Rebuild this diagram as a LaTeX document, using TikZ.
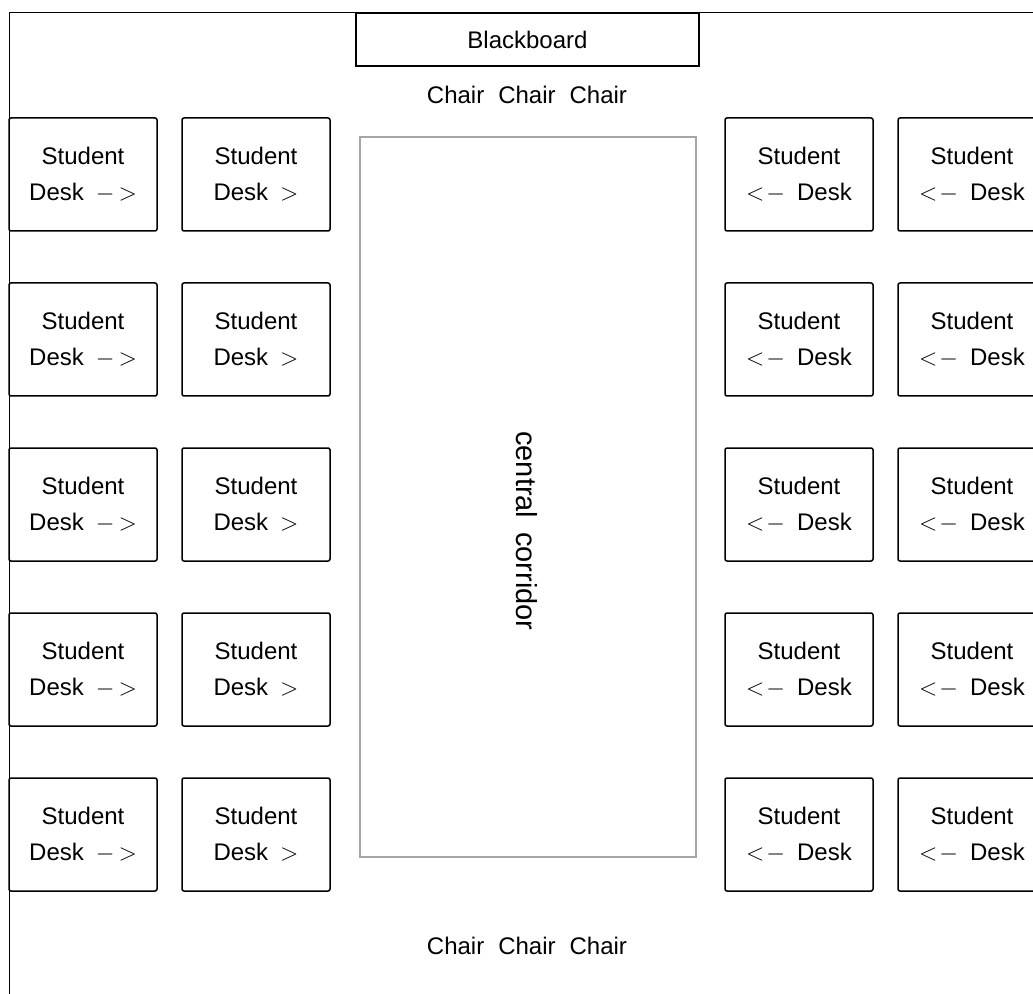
\documentclass[tikz,border=0pt]{standalone}
\usepackage{fontspec}
\setmainfont{Liberation Sans}
\tikzset{
  desk/.style={draw, line width=0.75pt, rounded corners=1pt, minimum width=74pt,
    minimum height=56.5pt, inner sep=0pt, align=center,
    font=\fontsize{12}{18}\selectfont},
  label/.style={font=\fontsize{12}{14}\selectfont}
}
\begin{document}
\begin{tikzpicture}[x=0.5pt, y=-0.5pt]
\useasboundingbox (0,0) rectangle (1033,994);
\draw[line width=0.5pt] (9,994) -- (9,13) -- (1040,13);
%
\draw(527.5,39.5) node[draw, line width=0.75pt, minimum width=171.5pt,
  minimum height=26.5pt, label](blackboard){Blackboard};
\draw(527,95) node[label](chairstop){Chair\hspace{7pt}Chair\hspace{7pt}Chair};
\draw(527,946) node[label](chairsbottom){Chair\hspace{7pt}Chair\hspace{7pt}Chair};
%
\draw(528,497) node[draw=gray!70, line width=1pt, minimum width=168pt,
  minimum height=360pt](corridor){};
\draw(527,531) node[font=\fontsize{14.5}{16}\selectfont, rotate=-90]
  (corridortext){central\hspace{7pt}corridor};
%
% left side, desks face right
\draw(83,174.5) node[desk](desk11){Student\\Desk\hspace{6pt}$-$\hspace{2pt}$>$};
\draw(256,174.5) node[desk](desk12){Student\\Desk\hspace{6pt}$>$};
\draw(83,339.5) node[desk](desk21){Student\\Desk\hspace{6pt}$-$\hspace{2pt}$>$};
\draw(256,339.5) node[desk](desk22){Student\\Desk\hspace{6pt}$>$};
\draw(83,504.5) node[desk](desk31){Student\\Desk\hspace{6pt}$-$\hspace{2pt}$>$};
\draw(256,504.5) node[desk](desk32){Student\\Desk\hspace{6pt}$>$};
\draw(83,669.5) node[desk](desk41){Student\\Desk\hspace{6pt}$-$\hspace{2pt}$>$};
\draw(256,669.5) node[desk](desk42){Student\\Desk\hspace{6pt}$>$};
\draw(83,834.5) node[desk](desk51){Student\\Desk\hspace{6pt}$-$\hspace{2pt}$>$};
\draw(256,834.5) node[desk](desk52){Student\\Desk\hspace{6pt}$>$};
%
% right side, desks face left
\draw(799,174.5) node[desk](desk13){Student\\$<$\hspace{1pt}$-$\hspace{6pt}Desk};
\draw(972,174.5) node[desk](desk14){Student\\$<$\hspace{1pt}$-$\hspace{6pt}Desk};
\draw(799,339.5) node[desk](desk23){Student\\$<$\hspace{1pt}$-$\hspace{6pt}Desk};
\draw(972,339.5) node[desk](desk24){Student\\$<$\hspace{1pt}$-$\hspace{6pt}Desk};
\draw(799,504.5) node[desk](desk33){Student\\$<$\hspace{1pt}$-$\hspace{6pt}Desk};
\draw(972,504.5) node[desk](desk34){Student\\$<$\hspace{1pt}$-$\hspace{6pt}Desk};
\draw(799,669.5) node[desk](desk43){Student\\$<$\hspace{1pt}$-$\hspace{6pt}Desk};
\draw(972,669.5) node[desk](desk44){Student\\$<$\hspace{1pt}$-$\hspace{6pt}Desk};
\draw(799,834.5) node[desk](desk53){Student\\$<$\hspace{1pt}$-$\hspace{6pt}Desk};
\draw(972,834.5) node[desk](desk54){Student\\$<$\hspace{1pt}$-$\hspace{6pt}Desk};
\end{tikzpicture}
\end{document}
